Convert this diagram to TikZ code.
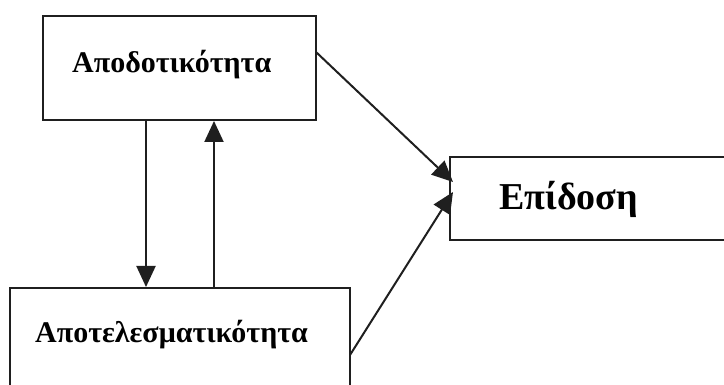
\documentclass[tikz,border=0pt]{standalone}
\usepackage{fontspec}
\setmainfont{Liberation Serif}
\usetikzlibrary{arrows.meta}
\tikzset{
  box/.style={draw=black!88, line width=2pt, rectangle, minimum width=#1, inner sep=0pt},
  lbl/.style={inner sep=0pt, anchor=base west, font=\bfseries},
  arr/.style={draw=black!88, line width=2pt, -{Triangle[length=21pt,width=19pt]}},
}
\begin{document}
\begin{tikzpicture}[x=1pt,y=1pt]
\useasboundingbox (0,0) rectangle (724,385);
\clip (0,0) rectangle (724,385);
\node[box=273pt, minimum height=104pt] (top) at (179.5,317) {};
\node[box=350pt, minimum height=83pt] (right) at (625,186.5) {};
\node[box=340pt, minimum height=142pt] (bot) at (180,26) {};
\node[lbl, font=\bfseries\fontsize{30}{36}\selectfont] (toplbl) at (72,312) {Αποδοτικότητα};
\node[lbl, font=\bfseries\fontsize{38}{44}\selectfont] (rightlbl) at (499,175) {Επίδοση};
\node[lbl, font=\bfseries\fontsize{30}{36}\selectfont] (botlbl) at (35,42) {Αποτελεσματικότητα};
\coordinate (d1) at (146,0);
\coordinate (u1) at (214,0);
\coordinate (s1) at (316,333);
\coordinate (t1) at (453,203);
\coordinate (s2) at (350,30);
\coordinate (t2) at (453,193);
\draw[arr] (top.south -| d1) -- (bot.north -| d1);
\draw[arr] (bot.north -| u1) -- (top.south -| u1);
\draw[arr] (s1) -- (t1);
\draw[arr] (s2) -- (t2);
\end{tikzpicture}
\end{document}
